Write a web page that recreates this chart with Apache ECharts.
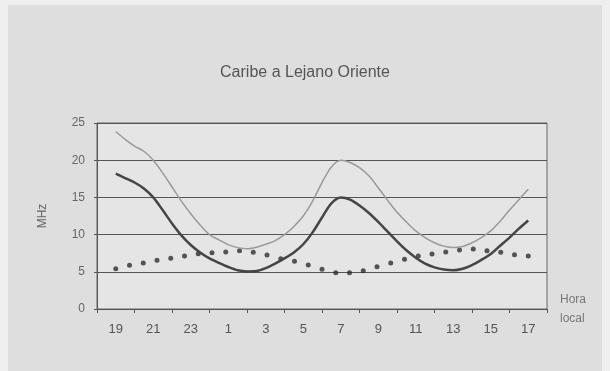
<!DOCTYPE html>
<html>
<head>
<meta charset="utf-8">
<script src="https://cdn.jsdelivr.net/npm/echarts@6/dist/echarts.min.js"></script>
<style>
html, body { margin: 0; padding: 0; background: #efefef; }
#chart { width: 610px; height: 371px; }
</style>
</head>
<body>
<div id="chart"></div>
<script>
// etiquetas del eje x (hora local, cada 2 horas)
var hourLabels = ['19', '21', '23', '1', '3', '5', '7', '9', '11', '13', '15', '17'];
var yTicks = [0, 5, 10, 15, 20, 25];

// curvas muestreadas cada media hora, de las 19h a las 17h
// MUF (linea fina)
var mufValues = [23.85, 22.8, 21.9, 21.2, 20.0, 18.3, 16.4, 14.5, 12.8, 11.3, 10.0, 9.3,
                 8.65, 8.25, 8.1, 8.3, 8.7, 9.2, 10.0, 11.1, 12.5, 14.5, 17.0, 19.1,
                 20.0, 19.7, 19.0, 17.9, 16.3, 14.6, 13.0, 11.7, 10.5, 9.6, 8.9, 8.45,
                 8.25, 8.4, 8.9, 9.6, 10.5, 11.8, 13.3, 14.7, 16.1];
// FOT (linea gruesa)
var fotValues = [18.2, 17.6, 17.0, 16.2, 15.0, 13.3, 11.5, 9.9, 8.6, 7.6, 6.8, 6.2,
                 5.65, 5.2, 5.05, 5.1, 5.5, 6.1, 6.8, 7.6, 8.7, 10.3, 12.3, 14.2,
                 15.0, 14.7, 13.9, 12.9, 11.7, 10.4, 9.1, 7.9, 6.9, 6.1, 5.6, 5.3,
                 5.2, 5.4, 5.9, 6.6, 7.4, 8.5, 9.6, 10.8, 11.9];
// LUF (puntos)
var lufValues = [5.42, 5.87, 6.18, 6.54, 6.81, 7.12, 7.43, 7.57, 7.66, 7.84, 7.62, 7.26, 6.76,
                 6.41, 5.91, 5.33, 4.88, 4.88, 5.15, 5.69, 6.18, 6.68, 7.12, 7.39, 7.66,
                 7.93, 8.06, 7.84, 7.62, 7.30, 7.12];

// posicion en horas desde las 18h: las series van de 1 (19h) a 23 (17h)
function spread(values) {
    return values.map(function (v, i) {
        return [1 + i * 22 / (values.length - 1), v];
    });
}

var myChart = echarts.init(document.getElementById('chart'));
var option = {
    backgroundColor: '#efefef',
    animation: false,
    textStyle: { fontFamily: 'Liberation Sans' },
    graphic: [{
        type: 'rect',
        z: -10,
        shape: { x: 8, y: 5, width: 594, height: 366 },
        style: { fill: '#dedede' }
    }],
    title: {
        text: 'Caribe a Lejano Oriente',
        left: 'center',
        top: 60,
        textStyle: {
            fontWeight: 'normal',
            fontSize: 16,
            color: '#555',
            fontFamily: 'Liberation Sans'
        }
    },
    grid: {
        left: 97,
        right: 63,
        top: 123,
        bottom: 62,
        show: true,
        backgroundColor: '#e5e5e5',
        borderColor: '#666',
        borderWidth: 1
    },
    xAxis: [
        {
            type: 'category',
            data: hourLabels,
            boundaryGap: true,
            name: 'Hora\nlocal',
            nameLocation: 'end',
            nameGap: 13,
            nameTextStyle: { color: '#777', fontSize: 12, lineHeight: 19, align: 'left' },
            axisLine: { lineStyle: { color: '#555', width: 1 } },
            axisTick: { show: true, length: 4, lineStyle: { color: '#555' } },
            axisLabel: { color: '#555', fontSize: 13, margin: 14 },
            splitLine: { show: false }
        },
        {
            type: 'value',
            min: 0,
            max: 24,
            show: false
        }
    ],
    yAxis: {
        type: 'value',
        min: yTicks[0],
        max: yTicks[yTicks.length - 1],
        interval: 5,
        name: 'MHz',
        nameLocation: 'middle',
        nameGap: 48,
        nameRotate: 90,
        nameTextStyle: { color: '#666', fontSize: 12 },
        axisLine: { show: true, lineStyle: { color: '#555' } },
        axisTick: { show: true, length: 3, lineStyle: { color: '#555' } },
        axisLabel: { color: '#666', fontSize: 12, margin: 12 },
        splitLine: { show: true, lineStyle: { color: '#555', width: 1 } }
    },
    series: [
        {
            name: 'MUF',
            type: 'line',
            xAxisIndex: 1,
            data: spread(mufValues),
            symbol: 'none',
            smooth: 0.3,
            lineStyle: { color: '#9a9a9a', width: 1.5 }
        },
        {
            name: 'FOT',
            type: 'line',
            xAxisIndex: 1,
            data: spread(fotValues),
            symbol: 'none',
            smooth: 0.3,
            lineStyle: { color: '#454545', width: 2.5 }
        },
        {
            name: 'LUF',
            type: 'scatter',
            xAxisIndex: 1,
            data: spread(lufValues),
            symbol: 'circle',
            symbolSize: 5,
            itemStyle: { color: '#2e2e2e' }
        }
    ]
};
myChart.setOption(option);
</script>
</body>
</html>
